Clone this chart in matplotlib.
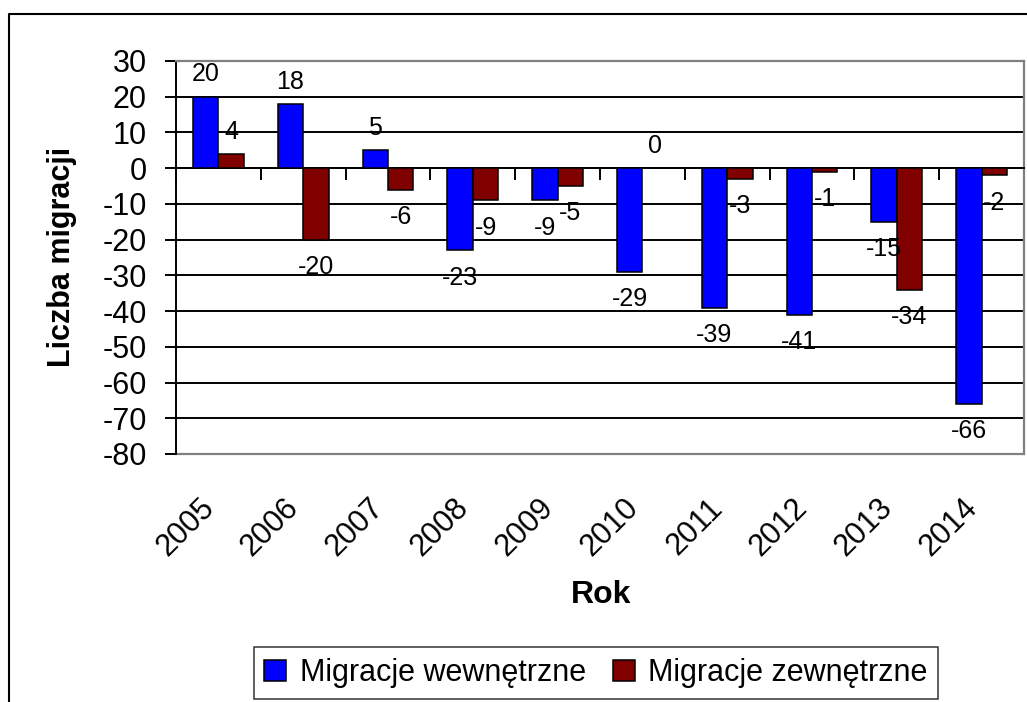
import matplotlib
matplotlib.use("Agg")
import matplotlib.pyplot as plt
from matplotlib.lines import Line2D

plt.rcParams['font.family'] = ['Liberation Sans', 'DejaVu Sans']
plt.rcParams['axes.unicode_minus'] = False

lata = ["2005", "2006", "2007", "2008", "2009", "2010", "2011", "2012", "2013", "2014"]
wewnetrzne = [20, 18, 5, -23, -9, -29, -39, -41, -15, -66]
zewnetrzne = [4, -20, -6, -9, -5, 0, -3, -1, -34, -2]
y_ticks = [-80, -70, -60, -50, -40, -30, -20, -10, 0, 10, 20, 30]

W, H = 1027, 702
fig = plt.figure(figsize=(W / 100, H / 100), dpi=100)
ax = fig.add_axes([176 / W, 1 - 454 / H, (1024 - 176) / W, (454 - 61) / H])

x = list(range(len(lata)))
szer = 0.3
xb = [i - szer / 2 for i in x]
xr = [i + szer / 2 for i in x]

# linie siatki
for t in y_ticks[1:-1]:
    ax.axhline(t, color="black", lw=1.4, zorder=1)
ax.axhline(-80, color="#808080", lw=1.6, zorder=1, clip_on=False)

b1 = ax.bar(xb, wewnetrzne, szer, color="#0000FF", edgecolor="black", lw=1.1,
            zorder=3, label="Migracje wewnętrzne")
b2 = ax.bar(xr, zewnetrzne, szer, color="#800000", edgecolor="black", lw=1.1,
            zorder=3, label="Migracje zewnętrzne")

# etykiety danych
for xs, vals in [(xb, wewnetrzne), (xr, zewnetrzne)]:
    for xi, v in zip(xs, vals):
        if v >= 0:
            ax.annotate(str(v), (xi, v), xytext=(0, 11), textcoords="offset points",
                        ha="center", va="baseline", fontsize=18, zorder=5)
        else:
            ax.annotate(str(v), (xi, v), xytext=(0, -11), textcoords="offset points",
                        ha="center", va="top", fontsize=18, zorder=5)

ax.set_xlim(-0.5, len(lata) - 0.5)
ax.set_ylim(-80, 30)
ax.set_yticks(y_ticks)
ax.set_yticklabels([str(t) for t in y_ticks])
ax.tick_params(axis="y", direction="out", length=8, width=1.4, labelsize=22, pad=13)

ax.set_xticks([i - 0.5 for i in range(len(lata) + 1)])
ax.set_xticklabels([])
ax.tick_params(axis="x", direction="out", length=8.5, width=1.4)

ax.spines["bottom"].set_position(("data", 0))
ax.spines["bottom"].set_linewidth(1.4)
ax.spines["left"].set_linewidth(1.4)
ax.spines["top"].set_color("#808080")
ax.spines["right"].set_color("#808080")
ax.spines["top"].set_linewidth(1.6)
ax.spines["right"].set_linewidth(1.6)

for i, rok in enumerate(lata):
    ax.annotate(rok, (i, 0), xycoords=("data", "axes fraction"),
                xytext=(-14, -28), textcoords="offset points",
                rotation=45, rotation_mode="anchor", ha="right", va="top",
                fontsize=22)

fig.text(62 / W, 1 - 257 / H, "Liczba migracji", rotation=90, ha="center",
         va="center", fontsize=22, fontweight="bold")
fig.text(601 / W, 1 - 595 / H, "Rok", ha="center", va="center",
         fontsize=23, fontweight="bold")

leg = fig.legend(handles=[b1, b2], loc="center", bbox_to_anchor=(596 / W, 1 - 673 / H),
                 ncol=2, fontsize=22, frameon=True, fancybox=False,
                 handlelength=0.7, handleheight=0.7, handletextpad=0.45,
                 columnspacing=0.9, borderpad=0.35, borderaxespad=0)
leg.get_frame().set_edgecolor("black")
leg.get_frame().set_linewidth(1.1)

# ramka wykresu
fig.add_artist(Line2D([9 / W, 9 / W, 1.01], [-0.01, 1 - 14 / H, 1 - 14 / H],
                      color="black", lw=1.5, transform=fig.transFigure))

fig.savefig("out.png", dpi=100)
